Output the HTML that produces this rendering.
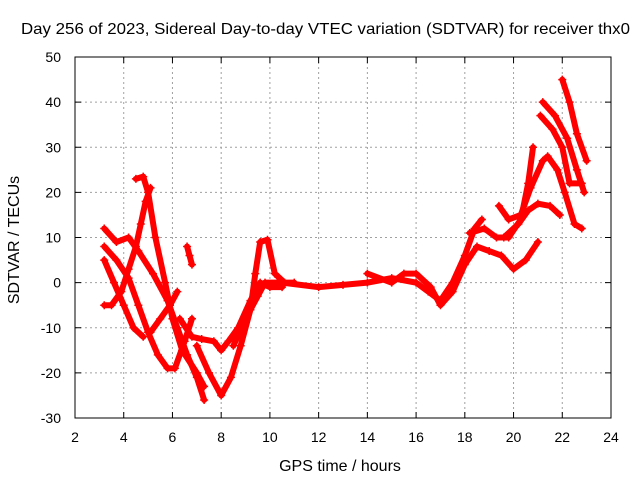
<!DOCTYPE html>
<html><head><meta charset="utf-8"><style>
body{margin:0;background:#fff}
svg{display:block;font-family:"Liberation Sans",sans-serif}
</style></head><body>
<svg id="chart" width="640" height="480">
<text x="21" y="34" font-size="16" textLength="609" lengthAdjust="spacingAndGlyphs">Day 256 of 2023, Sidereal Day-to-day VTEC variation (SDTVAR) for receiver thx0</text>
<text x="340" y="471" text-anchor="middle" font-size="16">GPS time / hours</text>
<text transform="translate(19,240) rotate(-90)" text-anchor="middle" font-size="16">SDTVAR / TECUs</text>
<g id="grid"></g><g id="series"></g>
<rect x="75" y="57" width="536" height="361" fill="none" stroke="#000"/>
</svg>
<script>
const xTicks=[2,4,6,8,10,12,14,16,18,20,22,24];
const yTicks=[-30,-20,-10,0,10,20,30,40,50];
const s1=[[4.5,23],[4.8,23.5],[5.0,20],[5.3,10],[5.7,0],[6.0,-8],[6.4,-15],[7.0,-20],[7.3,-23]];
const s2=[[3.2,12],[3.7,9],[4.2,10],[4.6,7],[5.2,2],[5.8,-4],[6.2,-10],[6.6,-16],[7.0,-21],[7.3,-26]];
const s3=[[3.2,8],[3.7,5],[4.2,1],[4.6,-5],[5.0,-11],[5.4,-16],[5.8,-19],[6.1,-19],[6.5,-13],[6.8,-8]];
const s4=[[3.2,5],[3.6,0],[4.0,-5],[4.4,-10],[4.8,-12]];
const s5=[[3.2,-5],[3.5,-5],[3.9,-2],[4.2,3],[4.5,8],[4.7,13],[4.9,18],[5.1,21]];
const s6=[[5.1,-11],[5.5,-8],[5.9,-5],[6.2,-2]];
const s6b=[[6.6,8],[6.7,6],[6.8,4]];
const s7=[[6.3,-8],[6.8,-12],[7.2,-12.5],[7.7,-13],[8.0,-15],[8.3,-13],[8.7,-10],[9.2,-4],[9.6,0],[10.0,-1],[10.5,-1]];
const s8=[[7.0,-14],[7.5,-20],[8.0,-25],[8.4,-21],[8.8,-14],[9.2,-6],[9.4,2],[9.6,9],[9.9,9.5],[10.2,2],[10.6,0],[11,0]];
const s9=[[8.5,-14],[9.0,-8],[9.5,-3],[9.8,0],[10.3,0]];
const m1=[[10.5,0],[12,-1],[13,-0.5],[14,0],[15,1],[16,0],[16.5,-2],[17,-4],[17.5,0],[18,6],[18.4,12],[18.7,14]];
const m2=[[14,2],[15,0],[15.5,2],[16,2],[16.6,-1],[17,-5],[17.5,-2],[18,4],[18.5,8],[19,7],[19.5,6],[20,3],[20.5,5],[21,9]];
const r1=[[18.2,11],[18.8,12],[19.3,10],[19.8,10],[20.3,14],[20.6,22],[20.8,30]];
const r3=[[19.4,17],[19.8,14],[20.3,15],[20.7,21],[21.2,27],[21.4,28],[21.8,25],[22.1,20],[22.5,13],[22.8,12]];
const r4=[[19.6,10],[20.2,13],[20.6,16],[21.0,17.5],[21.5,17],[21.9,15]];
const r5=[[22.0,45],[22.3,40],[22.6,33],[23,27]];
const r6=[[21.2,40],[21.7,37],[22.2,32],[22.6,25],[22.9,20]];
const r7=[[21.1,37],[21.6,34],[22.0,30],[22.3,22],[22.8,22]];
const allSeries=[s1,s2,s3,s4,s5,s6,s6b,s7,s8,s9,m1,m2,r1,r3,r4,r5,r6,r7];
const NS="http://www.w3.org/2000/svg";
const X=h=>75+(h-2)*536/22, Y=v=>418-(v+30)*361/80;
const grid=document.getElementById('grid'), ser=document.getElementById('series');
function mk(t,a,p){const e=document.createElementNS(NS,t);for(const k in a)e.setAttribute(k,a[k]);p.appendChild(e);return e;}
xTicks.forEach(t=>{
 if(t>2&&t<24){const l=mk('line',{x1:X(t),x2:X(t),y1:57,y2:418,stroke:'#a0a0a0','stroke-dasharray':'2,3'},grid);
 
 }
 mk('line',{x1:X(t),x2:X(t),y1:418,y2:412,stroke:'#000'},grid);
 mk('line',{x1:X(t),x2:X(t),y1:57,y2:63,stroke:'#000'},grid);
 const tx=mk('text',{x:X(t),y:442,'text-anchor':'middle','font-size':14},grid);tx.textContent=t;
 
 
});
yTicks.forEach(t=>{
 if(t>-30&&t<50){const l=mk('line',{x1:75,x2:611,y1:Y(t),y2:Y(t),stroke:'#a0a0a0','stroke-dasharray':'2,3'},grid);
 
 }
 mk('line',{x1:75,x2:81,y1:Y(t),y2:Y(t),stroke:'#000'},grid);
 mk('line',{x1:611,x2:605,y1:Y(t),y2:Y(t),stroke:'#000'},grid);
 const tx=mk('text',{x:61,y:Y(t)+5,'text-anchor':'end','font-size':14},grid);tx.textContent=t;
 
 
});
allSeries.forEach(s=>{
 const pl=mk('polyline',{points:s.map(p=>X(p[0])+','+Y(p[1])).join(' '),fill:'none',stroke:'#f00','stroke-width':6,'stroke-linejoin':'round','stroke-linecap':'round'},ser);
 
 
 s.forEach(p=>{const x=X(p[0]),y=Y(p[1]);
  const m=mk('path',{d:`M${x-4},${y}h8M${x},${y-4}v8`,stroke:'#f00','stroke-width':1.5},ser);
  
  });
});
</script>
</body></html>
